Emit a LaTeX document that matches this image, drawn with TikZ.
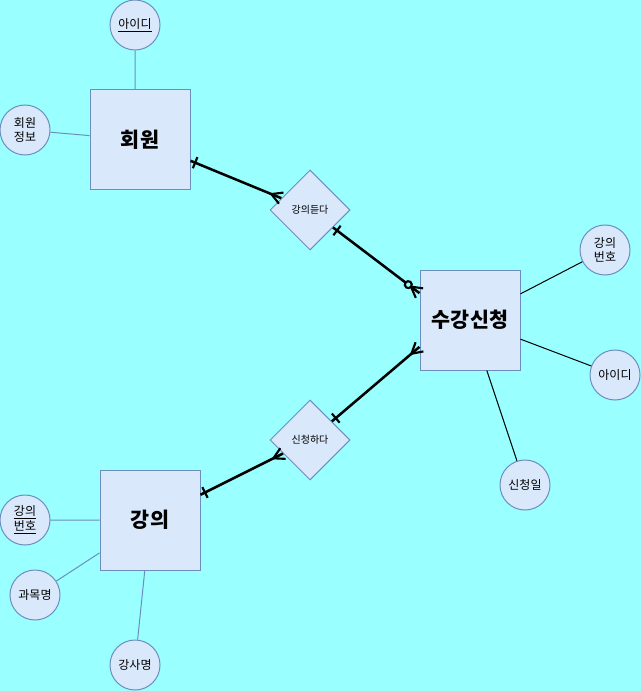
\documentclass[tikz,border=0pt]{standalone}
\usepackage{fontspec}
\setmainfont{Noto Sans CJK KR}
\usepackage{xcolor}
\usetikzlibrary{shapes.geometric}
\usetikzlibrary{decorations.markings}
\definecolor{bgcyan}{HTML}{99FFFF}
\definecolor{boxfill}{HTML}{DAE8FC}
\definecolor{boxline}{HTML}{6C8EBF}

\begin{document}
\begin{tikzpicture}[x=0.75pt,y=-0.75pt,
    entity/.style={draw=boxline,fill=boxfill,line width=0.75pt,minimum size=75pt,
      inner sep=0pt,font=\fontsize{15.5}{18}\selectfont\bfseries},
    attr/.style={circle,draw=boxline,fill=boxfill,line width=0.75pt,minimum size=37.5pt,
      inner sep=0pt,align=center,font=\fontsize{9}{10}\selectfont},
    rel/.style={diamond,draw=boxline,fill=boxfill,line width=0.75pt,minimum size=60pt,
      inner sep=0pt,font=\fontsize{7.5}{9}\selectfont},
    attr line/.style={draw=boxline,line width=0.75pt},
    link/.style={line width=1.9pt},
    one start/.style={postaction={decorate,decoration={markings,
      mark=at position 3.75pt with {\draw[line width=1.6pt] (0,-4.5pt) -- (0,4.5pt);}}}},
    one end/.style={postaction={decorate,decoration={markings,
      mark=at position -3.75pt with {\draw[line width=1.6pt] (0,-4.5pt) -- (0,4.5pt);}}}},
    many start/.style={postaction={decorate,decoration={markings,
      mark=at position 8pt with {\draw[line width=1.6pt] (0,0) -- (-8pt,4.5pt) (0,0) -- (-8pt,-4.5pt);}}}},
    many end/.style={postaction={decorate,decoration={markings,
      mark=at position -8pt with {\draw[line width=1.6pt] (0,0) -- (8pt,4.5pt) (0,0) -- (8pt,-4.5pt);}}}},
    zero end/.style={postaction={decorate,decoration={markings,
      mark=at position -10.5pt with {\draw[line width=1.6pt,fill=bgcyan] (0,0) circle (2.6pt);}}}}]
  \fill[bgcyan] (0,0) rectangle (641,691);
  \useasboundingbox (0,0) rectangle (641,691);

  % entities and attributes
  \node[entity] (member) at (140,140) {회원};
  \node[attr] (memberid) at (135,25) {\underline{아이디}};
  \node[attr] (memberinfo) at (25,130) {회원\\정보};
  \node[entity] (enroll) at (470,320) {수강신청};
  \node[attr] (enrollno) at (605,250) {강의\\번호};
  \node[attr] (enrollid) at (615,375) {아이디};
  \node[attr] (enrolldate) at (525,485) {신청일};
  \node[entity] (lecture) at (150,520) {강의};
  \node[attr] (lectureno) at (25,520) {\underline{강의}\\\underline{번호}};
  \node[attr] (subject) at (35,595) {과목명};
  \node[attr] (teacher) at (135,665) {강사명};

  % relationships
  \node[rel] (attend) at (310,210) {강의듣다};
  \node[rel] (apply) at (310,440) {신청하다};

  \path[attr line] (memberid) -- (memberid |- member.north)
    (memberinfo) -- (member)
    (lectureno) -- (lecture)
    (subject) -- (lecture)
    (teacher) -- (lecture);
  \draw[line width=0.75pt] (enroll) -- (enrollno)
    (enroll) -- (enrollid)
    (enroll) -- (enrolldate);

  \draw[link,one start,many end] (member) -- (attend);
  \draw[link,one start,zero end,many end] (attend) -- (enroll.152);
  \draw[link,many start,one end] (enroll.208) -- (apply);
  \draw[link,many start,one end] (apply) -- (lecture);
\end{tikzpicture}
\end{document}
